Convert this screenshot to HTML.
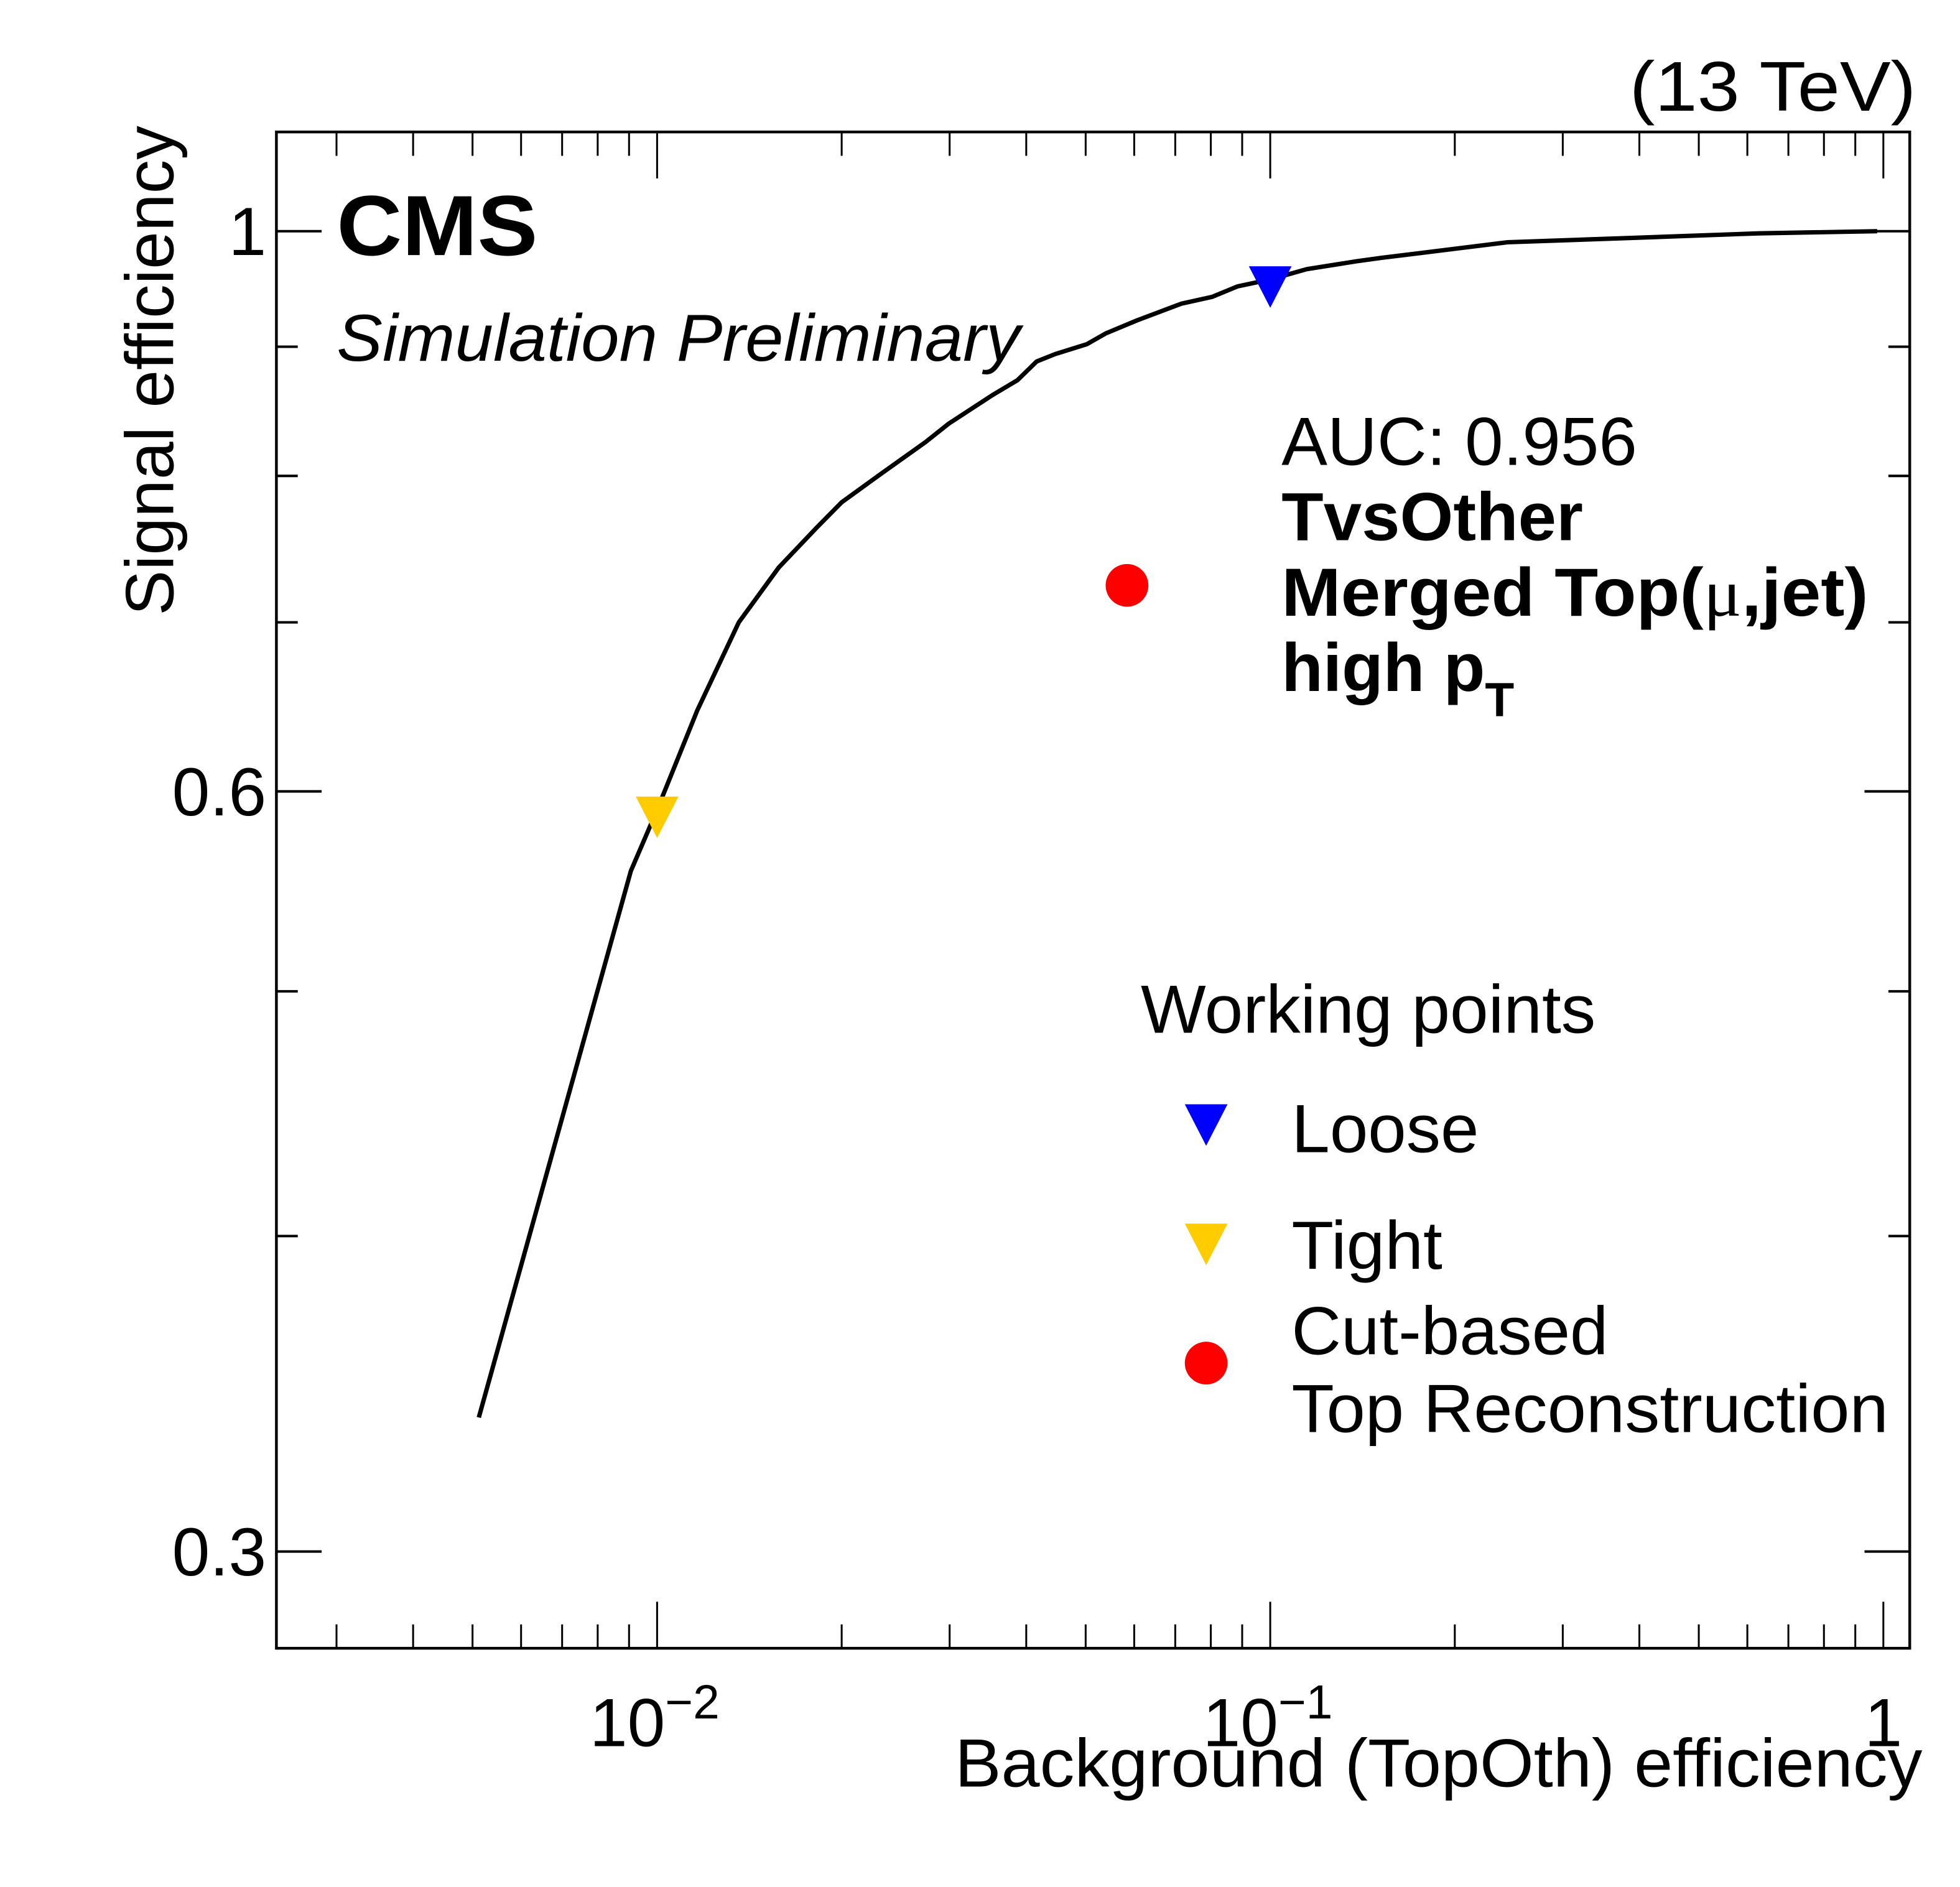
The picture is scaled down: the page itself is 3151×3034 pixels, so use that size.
<!DOCTYPE html>
<html><head><meta charset="utf-8"><style>
html,body{margin:0;padding:0;background:#fff}
svg{display:block}
text{font-family:"Liberation Sans",Arial,sans-serif;fill:#000}
</style></head><body>
<svg id="chart" width="3151" height="3034" viewBox="0 0 1560 1502" xmlns="http://www.w3.org/2000/svg">
<rect x="0" y="0" width="1560" height="1502" fill="#fff"/>
<g id="ticks"></g>
<rect x="220" y="105" width="1300" height="1207" fill="none" stroke="#000" stroke-width="2.2"/>
<g id="marks"></g>
<text x="1525" y="88" font-size="56" text-anchor="end" textLength="228" lengthAdjust="spacingAndGlyphs">(13 TeV)</text>
<text x="268" y="203" font-size="68" font-weight="bold" textLength="160" lengthAdjust="spacingAndGlyphs">CMS</text>
<text x="268" y="287" font-size="53" font-style="italic" textLength="544" lengthAdjust="spacingAndGlyphs">Simulation Preliminary</text>
<text x="1020" y="370" font-size="54" textLength="283" lengthAdjust="spacingAndGlyphs">AUC: 0.956</text>
<text x="1020" y="430" font-size="54" font-weight="bold" textLength="240" lengthAdjust="spacingAndGlyphs">TvsOther</text>
<text x="1020" y="490" font-size="54" font-weight="bold" textLength="467" lengthAdjust="spacingAndGlyphs">Merged Top(<tspan font-family="Liberation Serif,serif" font-weight="normal">μ</tspan>,jet)</text>
<text x="1020" y="550" font-size="54" font-weight="bold">high p<tspan font-size="38" dy="20">T</tspan></text>
<text x="908" y="822" font-size="54" textLength="362" lengthAdjust="spacingAndGlyphs">Working points</text>
<g>
<polygon points="943,879 977,879 960,912" fill="#0000ff"/>
<text x="1028" y="917" font-size="54" textLength="149" lengthAdjust="spacingAndGlyphs">Loose</text></g>
<g>
<polygon points="943,974 977,974 960,1007" fill="#ffcc00"/>
<text x="1028" y="1010" font-size="54" textLength="120" lengthAdjust="spacingAndGlyphs">Tight</text></g>
<g>
<circle cx="960" cy="1085" r="17" fill="#ff0000"/>
<text x="1028" y="1078" font-size="54" textLength="252" lengthAdjust="spacingAndGlyphs">Cut-based</text>
<text x="1028" y="1140" font-size="54" textLength="475" lengthAdjust="spacingAndGlyphs">Top Reconstruction</text></g>
<text transform="translate(138,100) rotate(-90)" font-size="54" text-anchor="end" textLength="390" lengthAdjust="spacingAndGlyphs">Signal efficiency</text>
<text x="1530" y="1422" font-size="54" text-anchor="end" textLength="770" lengthAdjust="spacingAndGlyphs">Background (TopOth) efficiency</text>
</svg>
<script>
// ROC curve data
const bkgEff = [0.00512,0.00906,0.0100,0.01163,0.01359,0.0158,0.0182,0.0200,0.0231,0.0274,0.0299,0.0352,0.0387,0.0416,0.0446,0.0502,0.0539,0.0607,0.0716,0.0805,0.0885,0.100,0.1147,0.1384,0.152,0.1926,0.2438,0.391,0.627,0.977];
const sigEff = [0.339,0.558,0.590,0.646,0.700,0.736,0.763,0.781,0.801,0.825,0.839,0.861,0.873,0.888,0.894,0.902,0.911,0.922,0.936,0.942,0.951,0.957,0.966,0.973,0.976,0.983,0.990,0.994,0.998,1.0];
const wpNames = ["loose","tight"];
const wpBkg = [0.1,0.01];
const wpSig = [0.952,0.587];
const wpColors = ["#0000ff","#ffcc00"];
const cutBkg = [0.0584];
const cutSig = [0.724];
const yTickValues = [1,0.9,0.8,0.7,0.6,0.5,0.4,0.3];
const yTickLabels = ["1","","","","0.6","","","0.3"];
const xDecades = [-2,-1,0];
const xDecadeLabels = [["10","−2"],["10","−1"],["1",""]];

const NS="http://www.w3.org/2000/svg";
function X(v){return 523+(Math.log10(v)+2)*488;}
function Y(v){return 184-Math.log10(v)*2010;}
function mk(tag,attrs,parent){const e=document.createElementNS(NS,tag);for(const k in attrs)e.setAttribute(k,attrs[k]);parent.appendChild(e);return e;}
const ticks=document.getElementById('ticks'), marks=document.getElementById('marks');

yTickValues.forEach((v,i)=>{
  const y=Y(v), L=yTickLabels[i]?36:17;
  const t1=mk('line',{x1:220,x2:220+L,y1:y,y2:y,stroke:'#000','stroke-width':2},ticks);
  
  
  const t2=mk('line',{x1:1520-L,x2:1520,y1:y,y2:y,stroke:'#000','stroke-width':2},ticks);
  
  
  if(yTickLabels[i]){
    const tx=mk('text',{x:212,y:y+19,'font-size':54,'text-anchor':'end'},ticks);
    tx.textContent=yTickLabels[i];
    
    
  }
});
for(let d=-3; d<=0; d++){
  for(let m=1;m<=9;m++){
    const v=m*Math.pow(10,d);
    const x=X(v);
    if(x<221||x>1519) continue;
    const L=m===1?37:19;
    const a=mk('line',{x1:x,x2:x,y1:1312,y2:1312-L,stroke:'#000','stroke-width':1.5},ticks);
    
    
    const b=mk('line',{x1:x,x2:x,y1:105,y2:105+L,stroke:'#000','stroke-width':1.5},ticks);
    
    
  }
}
xDecades.forEach((d,i)=>{
  const x=X(Math.pow(10,d));
  const t=mk('text',{x:x,y:1390,'font-size':54,'text-anchor':'middle'},ticks);
  
  
  if(xDecadeLabels[i][1]){
    t.setAttribute('x',x-2);
    t.textContent=xDecadeLabels[i][0];
    const s=document.createElementNS(NS,'tspan');
    s.setAttribute('font-size',38);s.setAttribute('dy',-22);
    s.textContent=xDecadeLabels[i][1];
    t.appendChild(s);
  } else { t.setAttribute('x',x); t.textContent=xDecadeLabels[i][0]; }
});
const pts=bkgEff.map((b,i)=>X(b).toFixed(1)+','+Y(sigEff[i]).toFixed(1)).join(' ');
const curve=mk('polyline',{points:pts,fill:'none',stroke:'#000','stroke-width':3.5,'stroke-linejoin':'round'},marks);


wpBkg.forEach((b,i)=>{
  const x=X(b), y=Y(wpSig[i]);
  const p=mk('polygon',{points:`${x-17},${y-15} ${x+17},${y-15} ${x},${y+18}`,fill:wpColors[i]},marks);
  
  
});
cutBkg.forEach((b,i)=>{
  const c=mk('circle',{cx:X(b),cy:Y(cutSig[i]),r:17,fill:'#ff0000'},marks);
  
  
});
</script>
</body></html>
